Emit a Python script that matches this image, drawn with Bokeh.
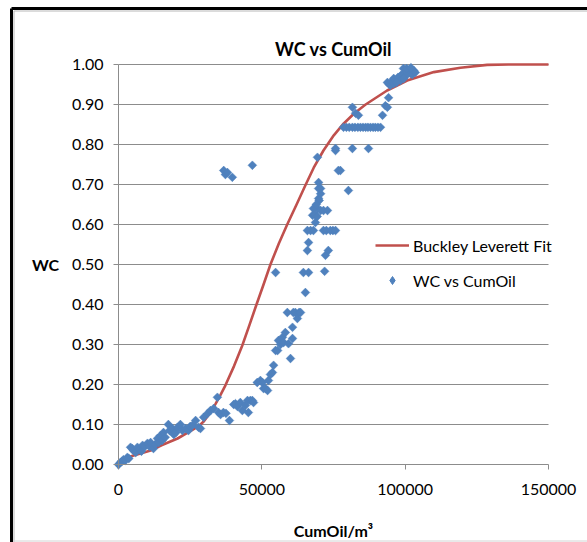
from bokeh.plotting import figure
from bokeh.models import (ColumnDataSource, Legend, LegendItem, Label,
                          FixedTicker, NumeralTickFormatter, Range1d)
from bokeh.embed import file_html
from bokeh.resources import INLINE

# ---- data ----
cum_oil = [
    0, 700, 1200, 1700, 2400, 3100, 3600, 4200, 4800, 5200, 6000, 6600, 7300, 8000, 8400,
    9200, 10100, 10800, 11200, 12200, 12800, 13600, 14000, 14600, 15200, 15700, 16300,
    17400, 17800, 18800, 19300, 20000, 20600, 21600, 22300, 23400, 24400, 25000, 25800,
    26900, 27900, 28600, 29700,
    31000, 32100, 33200, 34500, 34900, 35600, 36600, 37500, 38700, 40200, 40800, 41500,
    42500, 43200, 44300, 45000, 45300, 46000, 46700, 47100, 48400, 49500, 50200, 50600,
    51300, 52000, 52300, 53000, 53700, 54100,
    36700, 37300, 38000, 39700, 46700,
    54800, 55500, 55800, 56500, 57200, 57600, 58200, 58900, 59300, 60000, 60700, 60700,
    61000, 61700, 62400, 63000, 63500, 54800, 64500, 65200, 65900, 66300, 66300, 65900,
    67000, 67700, 68000, 68000, 68700, 69400, 69800, 70500, 69800, 69800, 70500, 69400,
    70500, 71500, 72900, 71500, 72500, 73900, 74800, 75700, 71900, 72200, 73200, 70000,
    69000, 68500, 69300,
    75700, 76700, 77400, 80200, 75700, 78500, 79500, 80500, 81600, 82500, 83500, 84400,
    85300, 86200, 87000, 87900, 88800, 89600, 90500, 91400, 81600, 87200, 81600, 82700,
    83700, 92100, 93100, 93800, 94200,
    93800, 94500, 94900, 95300, 96000, 96000, 96800, 97500, 98400, 98400, 99000, 99400,
    100000, 100800, 101500, 101900, 102500, 103000, 103500, 97000, 99500, 100500, 102000,
]
wc = [
    0.000, 0.005, 0.008, 0.012, 0.010, 0.018, 0.015, 0.043, 0.040, 0.035, 0.030, 0.043,
    0.038, 0.033, 0.048, 0.045, 0.053, 0.045, 0.055, 0.040, 0.050, 0.065, 0.055, 0.072,
    0.060, 0.080, 0.068, 0.100, 0.085, 0.090, 0.075, 0.080, 0.093, 0.100, 0.085, 0.090,
    0.085, 0.095, 0.098, 0.110, 0.093, 0.090, 0.118,
    0.127, 0.135, 0.140, 0.168, 0.130, 0.125, 0.130, 0.128, 0.110, 0.150, 0.152, 0.145,
    0.155, 0.135, 0.148, 0.160, 0.130, 0.160, 0.160, 0.155, 0.205, 0.210, 0.205, 0.190,
    0.190, 0.185, 0.210, 0.225, 0.230, 0.248,
    0.735, 0.725, 0.730, 0.718, 0.748,
    0.285, 0.285, 0.310, 0.300, 0.318, 0.305, 0.330, 0.380, 0.302, 0.265, 0.343, 0.315,
    0.380, 0.380, 0.365, 0.380, 0.380, 0.480, 0.480, 0.430, 0.535, 0.480, 0.555, 0.585,
    0.585, 0.623, 0.640, 0.585, 0.605, 0.640, 0.665, 0.677, 0.690, 0.705, 0.690, 0.768,
    0.635, 0.635, 0.635, 0.585, 0.585, 0.585, 0.585, 0.585, 0.483, 0.523, 0.535, 0.660,
    0.650, 0.625, 0.620,
    0.785, 0.735, 0.735, 0.685, 0.790, 0.843, 0.843, 0.843, 0.843, 0.843, 0.843, 0.843,
    0.843, 0.843, 0.843, 0.843, 0.843, 0.843, 0.843, 0.843, 0.790, 0.790, 0.893, 0.878,
    0.873, 0.873, 0.897, 0.893, 0.917,
    0.955, 0.950, 0.948, 0.958, 0.965, 0.952, 0.960, 0.968, 0.972, 0.960, 0.975, 0.990,
    0.970, 0.980, 0.985, 0.977, 0.975, 0.985, 0.980, 0.955, 0.965, 0.990, 0.992,
]

fit_cum_oil = [1700, 5000, 11200, 15000, 20600, 24000, 26800, 28600, 29800, 31000, 32400,
               33800, 35500, 37300, 40300, 43150, 45700, 48140, 50600, 53000, 55900, 58850,
               62000, 65000, 68100, 71500, 75100, 78500, 82100, 86200, 93700, 100700,
               110000, 119300, 128600, 136000, 150000]
fit_wc = [0.015, 0.022, 0.035, 0.048, 0.065, 0.079, 0.091, 0.100, 0.108, 0.120, 0.134,
          0.151, 0.173, 0.198, 0.246, 0.297, 0.349, 0.400, 0.450, 0.500, 0.552, 0.600,
          0.648, 0.695, 0.742, 0.785, 0.823, 0.852, 0.877, 0.900, 0.935, 0.960,
          0.981, 0.992, 0.999, 1.000, 1.000]

x_ticks = [0, 50000, 100000, 150000]
y_ticks = [0.0, 0.1, 0.2, 0.3, 0.4, 0.5, 0.6, 0.7, 0.8, 0.9, 1.0]

title_text = "WC vs CumOil"
x_label = "CumOil/m\u00b3"
y_label = "WC"
fit_name = "Buckley Leverett Fit"
scatter_name = "WC vs CumOil"

FONT = "Lato"
GRID = "#8c8c8c"
BLUE = "#4F81BD"
W, H = 587, 542

# pixel layout of the plotting area inside the full-canvas frame
PX_L, PX_R, PX_B, PX_T = 118, 548, 464, 64
X_MIN, X_MAX = x_ticks[0], x_ticks[-1]
Y_MIN, Y_MAX = y_ticks[0], y_ticks[-1]
kx = (X_MAX - X_MIN) / (PX_R - PX_L)
ky = (Y_MAX - Y_MIN) / (PX_B - PX_T)


def dx(px):
    return X_MIN + (px - PX_L) * kx


def dy(py):
    return Y_MIN + (PX_B - py) * ky


p = figure(width=W, height=H, output_backend="svg", toolbar_location=None,
           x_range=Range1d(dx(0), dx(W)), y_range=Range1d(dy(H), dy(0)),
           min_border=0, min_border_left=0, min_border_right=0,
           min_border_top=0, min_border_bottom=0)
p.outline_line_color = None
p.background_fill_color = "white"
p.border_fill_color = "white"
p.xgrid.grid_line_color = None
p.ygrid.grid_line_color = None

for ax, ticks, bnds in ((p.xaxis, x_ticks, (X_MIN, X_MAX)),
                        (p.yaxis, y_ticks, (Y_MIN, Y_MAX))):
    ax.ticker = FixedTicker(ticks=ticks)
    ax.bounds = bnds
    ax.fixed_location = 0
    ax.axis_line_color = GRID
    ax.major_tick_line_color = GRID
    ax.major_tick_out = 5
    ax.major_tick_in = 0
    ax.minor_tick_line_color = None
    ax.major_label_text_font = FONT
    ax.major_label_text_font_size = "16px"
    ax.major_label_text_color = "black"
p.yaxis.formatter = NumeralTickFormatter(format="0.00")
p.xaxis.formatter = NumeralTickFormatter(format="0")
p.yaxis.major_label_standoff = 10
p.xaxis.major_label_standoff = 14

# horizontal gridlines (one per y tick above zero)
g_y = y_ticks[1:]
p.segment(x0=[X_MIN] * len(g_y), x1=[X_MAX] * len(g_y), y0=g_y, y1=g_y,
          line_color=GRID, line_width=1)

# chart-area border (left and top edges, faint bottom edge)
p.segment(x0=[dx(11), dx(11)], x1=[dx(11), dx(W + 5)], y0=[dy(8), dy(8)],
          y1=[dy(H + 5), dy(8)], line_color="black", line_width=3)
p.segment(x0=[dx(13.5), dx(13.5)], x1=[dx(13.5), dx(W + 5)], y0=[dy(10.5), dy(10.5)],
          y1=[dy(H + 5), dy(10.5)], line_color="#b8b8b8", line_width=1)
p.segment(x0=[dx(13)], x1=[dx(W + 5)], y0=[dy(540.5)], y1=[dy(540.5)],
          line_color="#d4d4d4", line_width=1)

fit_r = p.line(fit_cum_oil, fit_wc, line_color="#C0504D", line_width=2.6,
               line_join="round")
src = ColumnDataSource(dict(x=cum_oil, y=wc))
p.scatter("x", "y", source=src, marker="square", angle=0.785398, size=6.2,
          fill_color=BLUE, line_color=BLUE, line_width=0.5)
# legend stand-in drawn with a diamond glyph on the first observation
leg_src = ColumnDataSource(dict(x=cum_oil[:1], y=wc[:1]))
leg_r = p.scatter("x", "y", source=leg_src, marker="diamond", size=9,
                  fill_color=BLUE, line_color=BLUE)

legend = Legend(items=[LegendItem(label=fit_name, renderers=[fit_r]),
                       LegendItem(label=scatter_name, renderers=[leg_r])],
                location=(375, H - 290), orientation="vertical",
                background_fill_alpha=0, border_line_alpha=0,
                glyph_width=34, glyph_height=20, label_height=20, spacing=15,
                label_standoff=4, padding=0, margin=0,
                label_text_font=FONT, label_text_font_size="16px",
                label_text_color="black")
p.add_layout(legend)

p.add_layout(Label(x=dx(333), y=dy(48), text=title_text, text_align="center",
                   text_baseline="middle", text_font=FONT, text_font_size="18px",
                   text_font_style="bold", text_color="black"))
p.add_layout(Label(x=dx(45), y=dy(264), text=y_label, text_align="center",
                   text_baseline="middle", text_font=FONT, text_font_size="16px",
                   text_font_style="bold", text_color="black"))
p.add_layout(Label(x=dx(333), y=dy(530), text=x_label, text_align="center",
                   text_baseline="middle", text_font=FONT, text_font_size="16px",
                   text_font_style="bold", text_color="black"))

open("out.html", "w").write(file_html(p, INLINE))
